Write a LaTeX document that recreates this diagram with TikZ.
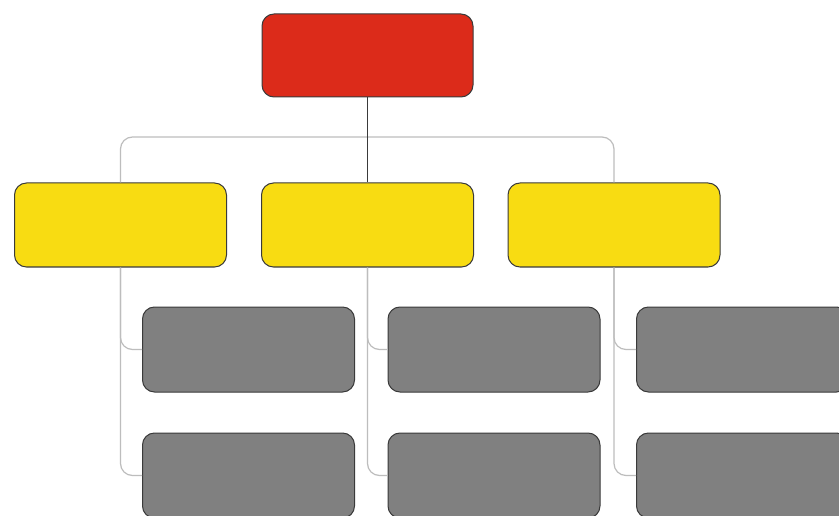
\documentclass[tikz,border=0pt]{standalone}
\usepackage{tikz}
\definecolor{boxred}{HTML}{DC2B1A}
\definecolor{boxyellow}{HTML}{F8DC12}
\definecolor{boxgray}{HTML}{808080}
\definecolor{edgedark}{HTML}{3A3A3A}
\definecolor{connlight}{HTML}{BDBDBD}
\tikzset{
  x=1pt, y=-1pt,
  box/.style={rectangle, rounded corners=12pt, draw=edgedark, line width=1pt,
    minimum width=212pt, minimum height=84pt, inner sep=0pt},
  redbox/.style={box, fill=boxred, minimum width=211pt, minimum height=83pt},
  yelbox/.style={box, fill=boxyellow},
  graybox/.style={box, fill=boxgray, minimum height=85pt},
  conn/.style={draw=connlight, line width=1.2pt, rounded corners=12pt},
  topconn/.style={draw=edgedark, line width=1.3pt},
}
\begin{document}
\begin{tikzpicture}
\useasboundingbox (0,0) rectangle (839,516);
\clip (0,0) rectangle (839,516);
\fill[white] (0,0) rectangle (839,516);
\node[redbox] (r) at (367.5,55.5) {};
\node[yelbox] (y1) at (120.5,225) {};
\node[yelbox] (y2) at (367.5,225) {};
\node[yelbox] (y3) at (614,225) {};
\node[graybox] (g11) at (248.5,349.5) {};
\node[graybox] (g12) at (494,349.5) {};
\node[graybox] (g13) at (742.5,349.5) {};
\node[graybox] (g21) at (248.5,475.5) {};
\node[graybox] (g22) at (494,475.5) {};
\node[graybox] (g23) at (742.5,475.5) {};
\coordinate (bar) at (367.5,137);
\draw[conn] (y1.north) |- (bar) -| (y3.north);
\draw[conn] (y1.south) |- (g11.west);
\draw[conn] (y1.south) |- (g21.west);
\draw[conn] (y2.south) |- (g12.west);
\draw[conn] (y2.south) |- (g22.west);
\draw[conn] (y3.south) |- (g13.west);
\draw[conn] (y3.south) |- (g23.west);
\draw[topconn] (r.south) -- (y2.north);
\end{tikzpicture}
\end{document}
